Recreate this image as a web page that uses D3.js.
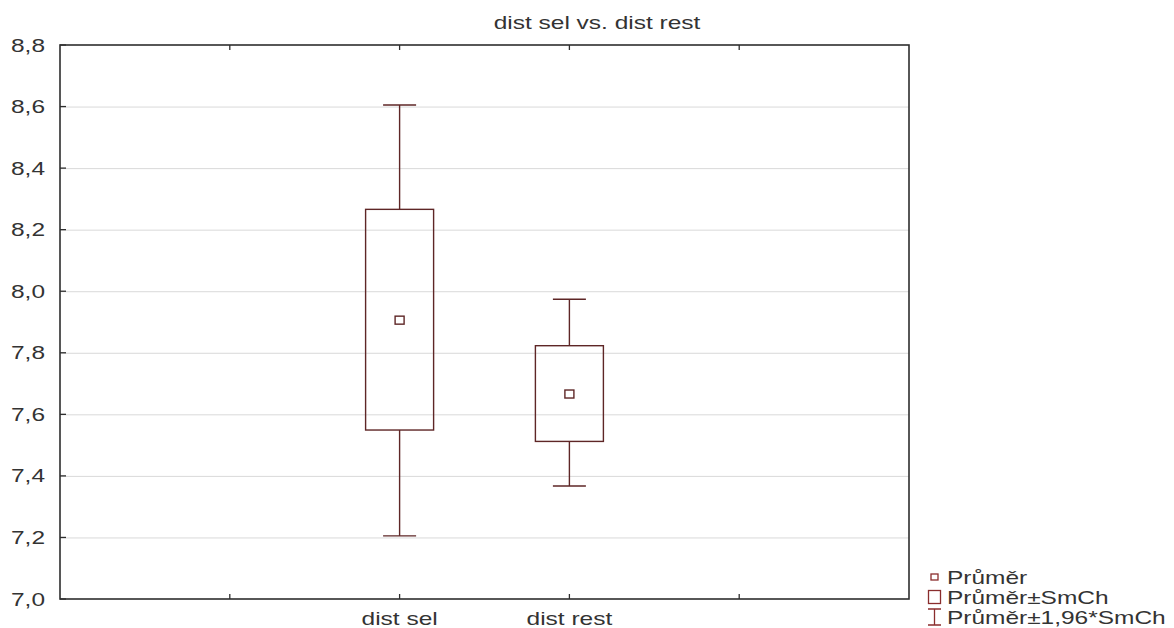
<!DOCTYPE html>
<html>
<head>
<meta charset="utf-8">
<script src="https://cdn.jsdelivr.net/npm/d3@7"></script>
<style>
  body { margin: 0; background: #fff; }
  svg { display: block; font-family: "Liberation Sans", Arial, sans-serif; }
</style>
</head>
<body>
<div id="chart"></div>
<script>
// values (mean, mean ± SE box, mean ± 1.96*SE whiskers)
const categories = ["dist sel", "dist rest"];
const means = [7.906, 7.666];
const seLow = [7.549, 7.512];
const seHigh = [8.266, 7.823];
const ciLow = [7.205, 7.367];
const ciHigh = [8.605, 7.974];
const yTicks = [7.0, 7.2, 7.4, 7.6, 7.8, 8.0, 8.2, 8.4, 8.6, 8.8];
const title = "dist sel vs. dist rest";
const legendLabels = ["Průměr", "Průměr±SmCh", "Průměr±1,96*SmCh"];

const W = 1174, H = 628;
const M = { top: 45, right: 265, bottom: 29, left: 60 };
const FS = 18, SX = 1.36; // the source picture is stretched sideways
const MARK = "#5e2626", LEG = "#8a2d2d", AXIS = "#2e2e2e", GRID = "#d9d9d9", TXT = "#333";

const svg = d3.select("#chart").append("svg").attr("width", W).attr("height", H);
svg.append("rect").attr("width", W).attr("height", H).attr("fill", "#fff");

const x = d3.scaleLinear().domain([-2, categories.length + 1]).range([M.left, W - M.right]);
const y = d3.scaleLinear().domain([7.0, 8.8]).range([H - M.bottom, M.top]);
const fmt = v => d3.format(".1f")(v).replace(".", ",");

function label(g, tx, ty, text, anchor) {
  return g.append("text")
    .attr("transform", `translate(${tx},${ty}) scale(${SX},1)`)
    .attr("text-anchor", anchor).attr("font-size", FS).attr("fill", TXT)
    .text(text);
}

// gridlines
svg.append("g").attr("transform", `translate(${M.left},0)`)
  .call(d3.axisLeft(y).tickValues(yTicks.slice(1, -1)).tickSize(-(W - M.left - M.right)).tickFormat(""))
  .call(g => g.select(".domain").remove())
  .call(g => g.selectAll("line").attr("stroke", GRID).attr("stroke-width", 1));

// y tick labels + inward ticks
const yg = svg.append("g");
yTicks.forEach(v => {
  label(yg, 45, y(v) + 6.5, fmt(v), "end");
  yg.append("line").attr("x1", M.left).attr("x2", M.left + 6)
    .attr("y1", y(v)).attr("y2", y(v)).attr("stroke", AXIS).attr("stroke-width", 1.3);
});

// x ticks (inward, top and bottom)
const xTickVals = d3.range(-1, categories.length + 1);
const xg = svg.append("g");
xTickVals.forEach(t => {
  xg.append("line").attr("x1", x(t)).attr("x2", x(t))
    .attr("y1", y(7.0)).attr("y2", y(7.0) - 5).attr("stroke", AXIS).attr("stroke-width", 1.3);
  xg.append("line").attr("x1", x(t)).attr("x2", x(t))
    .attr("y1", y(8.8)).attr("y2", y(8.8) + 5).attr("stroke", AXIS).attr("stroke-width", 1.3);
});
categories.forEach((c, i) => label(xg, x(i), 625, c, "middle"));

// frame
svg.append("rect").attr("x", M.left).attr("y", M.top)
  .attr("width", W - M.left - M.right).attr("height", H - M.top - M.bottom)
  .attr("fill", "none").attr("stroke", AXIS).attr("stroke-width", 1.6);

// boxes & whiskers
const boxW = 68, capW = 33;
const marks = svg.append("g").attr("stroke", MARK).attr("stroke-width", 1.4).attr("fill", "none");
categories.forEach((c, i) => {
  const cx = x(i);
  marks.append("line").attr("x1", cx).attr("x2", cx).attr("y1", y(ciHigh[i])).attr("y2", y(seHigh[i]));
  marks.append("line").attr("x1", cx).attr("x2", cx).attr("y1", y(seLow[i])).attr("y2", y(ciLow[i]));
  marks.append("line").attr("x1", cx - capW / 2).attr("x2", cx + capW / 2).attr("y1", y(ciHigh[i])).attr("y2", y(ciHigh[i]));
  marks.append("line").attr("x1", cx - capW / 2).attr("x2", cx + capW / 2).attr("y1", y(ciLow[i])).attr("y2", y(ciLow[i]));
  marks.append("rect").attr("x", cx - boxW / 2).attr("y", y(seHigh[i]))
    .attr("width", boxW).attr("height", y(seLow[i]) - y(seHigh[i]));
  marks.append("rect").attr("x", cx - 4.5).attr("y", y(means[i]) - 4).attr("width", 9).attr("height", 8);
});

// title
label(svg, 597, 29, title, "middle");

// legend
const lg = svg.append("g");
const rowY = [577, 597, 617];
lg.append("rect").attr("x", 931).attr("y", rowY[0] - 3).attr("width", 7).attr("height", 6)
  .attr("fill", "none").attr("stroke", LEG).attr("stroke-width", 1.3);
lg.append("rect").attr("x", 928.5).attr("y", rowY[1] - 6.5).attr("width", 12).attr("height", 13)
  .attr("fill", "none").attr("stroke", LEG).attr("stroke-width", 1.3);
lg.append("path").attr("d", `M928,${rowY[2] - 8}H941M934.5,${rowY[2] - 8}V${rowY[2] + 8}M928,${rowY[2] + 8}H941`)
  .attr("fill", "none").attr("stroke", LEG).attr("stroke-width", 1.3);
legendLabels.forEach((t, i) => label(lg, 947, rowY[i] + 6.5, t, "start"));
</script>
</body>
</html>
